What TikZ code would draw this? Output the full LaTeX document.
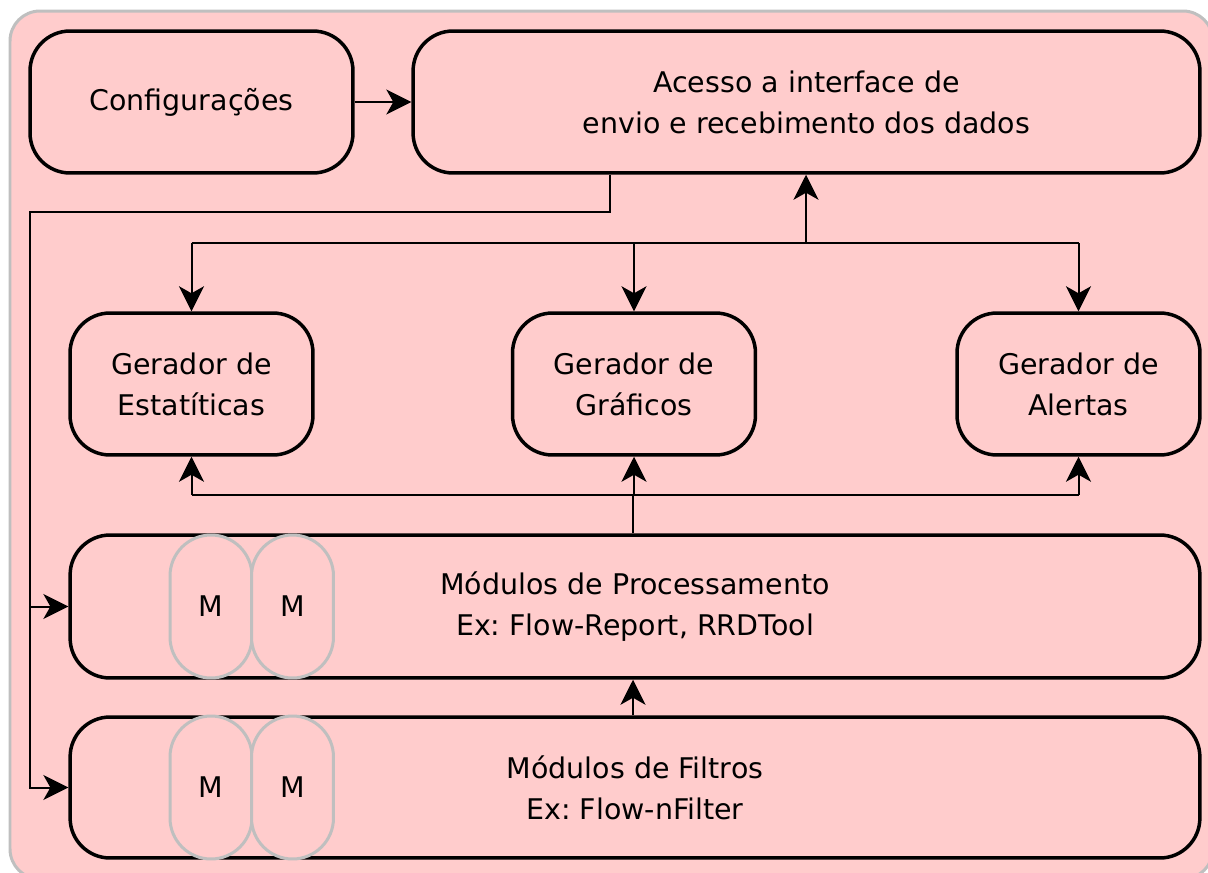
\documentclass[tikz,border=0pt]{standalone}
\usepackage{fontspec}
\setmainfont{DejaVu Sans}
\usetikzlibrary{arrows.meta}
\definecolor{fundo}{RGB}{255,204,204}
\definecolor{borda}{RGB}{191,191,191}
\frenchspacing

\begin{document}
\begin{tikzpicture}[x=0.02cm, y=-0.02cm,
    bloco/.style={draw, line width=0.07cm, rounded corners=0.8cm, fill=fundo, align=center, inner sep=0pt},
    gerador/.style={bloco, minimum width=4.86cm, minimum height=2.84cm},
    camada/.style={bloco, minimum width=22.6cm, minimum height=2.84cm},
    modulo/.style={draw=borda, line width=0.06cm, rounded corners=0.82cm, fill=fundo, minimum width=1.64cm, minimum height=2.86cm, inner sep=0pt},
    fio/.style={line width=0.04cm},
    seta/.style={fio, -{Stealth[length=0.5cm, width=0.5cm, inset=0.14cm]}},
    font=\fontsize{16.2}{23.3}\selectfont]
    \useasboundingbox (0,0) rectangle (1208,873);

    % Fundo
    \draw[borda, line width=0.06cm, fill=fundo, rounded corners=0.6cm] (10,11) rectangle (1213,879);

    % Topo
    \node[bloco, minimum width=6.46cm, minimum height=2.84cm] (cfg) at (191.5,102) {Configurações};
    \node[bloco, minimum width=15.74cm, minimum height=2.84cm] (acc) at (806.5,102) {Acesso a interface de\\envio e recebimento dos dados};

    % Geradores
    \node[gerador] (est) at (191.5,384) {Gerador de\\Estatíticas};
    \node[gerador] (graf) at (634,384) {Gerador de\\Gráficos};
    \node[gerador] (ale) at (1078.5,384) {Gerador de\\Alertas};

    % Camadas de modulos
    \node[camada, minimum height=2.86cm] (proc) at (635,606.5) {Módulos de Processamento\\Ex: Flow-Report, RRDTool};
    \node[camada, minimum height=2.82cm] (filt) at (635,787.5) {Módulos de Filtros\\Ex: Flow-nFilter};

    % Modulos M
    \foreach \nome/\camada in {mp/proc, mf/filt} {
        \node[modulo] (\nome1) at (211,0 |- \camada.center) {M};
        \node[modulo] (\nome2) at (292.5,0 |- \camada.center) {M};
    }

    % Ligacoes
    \coordinate (tap) at (610,212);
    \coordinate (trunk) at (30,212);
    \coordinate (up) at (806,243);
    \coordinate (dn) at (633,495);

    \draw[seta] (cfg.east) -- (acc.west);
    \draw[seta] (tap |- acc.south) -- (tap) -- (trunk) |- (filt.west);
    \draw[seta] (trunk |- proc.west) -- (proc.west);

    \draw[seta] (up) -- (up |- acc.south);
    \draw[fio] (est.north |- up) -- (ale.north |- up);
    \draw[fio] (dn |- proc.north) -- (dn);
    \draw[fio] (est.south |- dn) -- (ale.south |- dn);
    \foreach \g in {est, graf, ale} {
        \draw[seta] (\g.north |- up) -- (\g.north);
        \draw[seta] (\g.south |- dn) -- (\g.south);
    }
    \draw[seta] (dn |- filt.north) -- (dn |- proc.south);
\end{tikzpicture}
\end{document}
